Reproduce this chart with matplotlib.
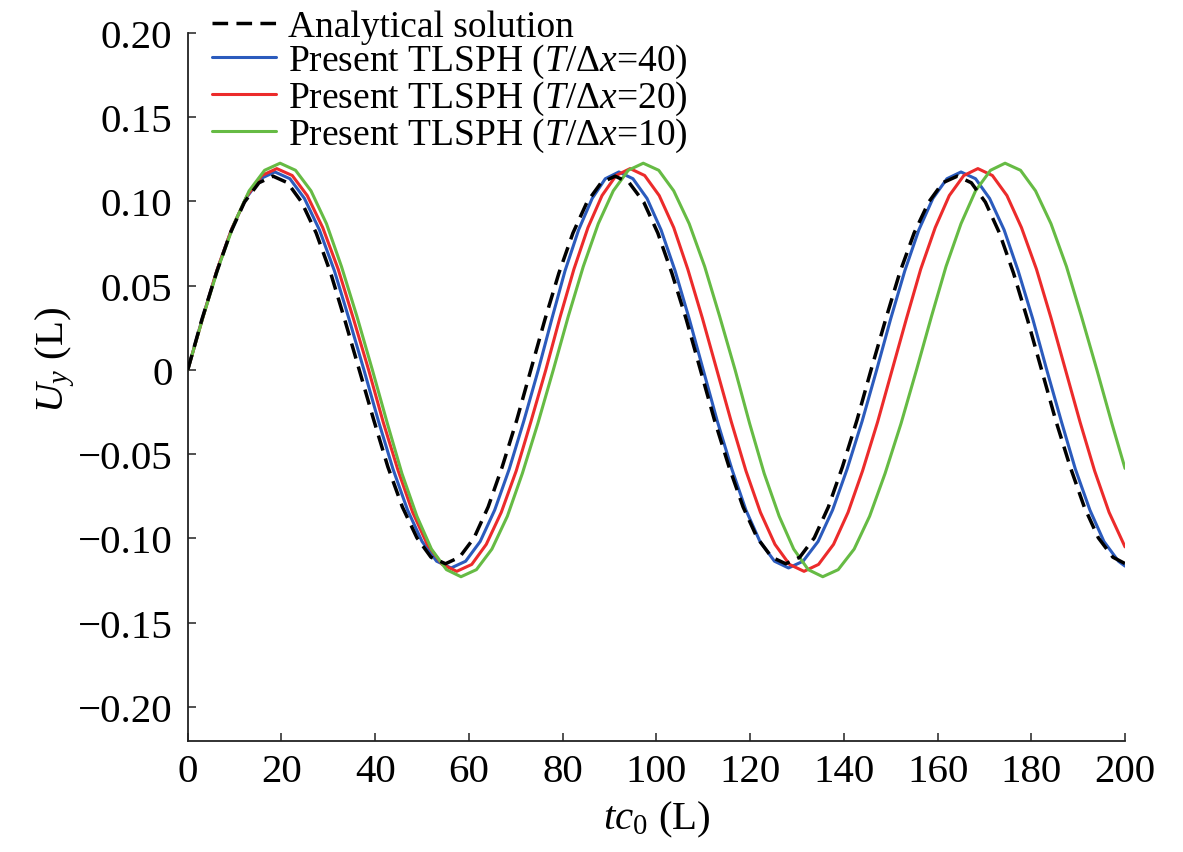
import matplotlib
matplotlib.use('Agg')
import matplotlib.pyplot as plt

# ---- data ----
# analytical solution
x_ana = [0, 3.0, 6.1, 9.1, 12.1, 15.2, 18.2,
         21.3, 24.3, 27.4, 30.5, 33.5, 36.6,
         39.7, 42.7, 45.8, 48.9, 51.9, 55.0,
         58.0, 61.1, 64.1, 67.1, 70.2, 73.2,
         76.2, 79.2, 82.2, 85.2, 88.2, 91.2,
         94.2, 97.3, 100.3, 103.3, 106.4, 109.4,
         112.4, 115.5, 118.5, 121.5, 124.6, 127.6,
         130.6, 133.7, 136.7, 139.7, 142.8, 145.8,
         148.9, 151.9, 155.0, 158.1, 161.1, 164.2,
         167.2, 170.2, 173.2, 176.2, 179.2, 182.2,
         185.2, 188.3, 191.3, 194.3, 197.4, 200.0]
y_ana = [0, 0.0298, 0.0575, 0.0813, 0.0996, 0.1111, 0.115,
         0.1111, 0.0996, 0.0813, 0.0575, 0.0298, 0,
         -0.0298, -0.0575, -0.0813, -0.0996, -0.1111, -0.115,
         -0.1111, -0.0996, -0.0813, -0.0575, -0.0298, 0,
         0.0298, 0.0575, 0.0813, 0.0996, 0.1111, 0.115,
         0.1111, 0.0996, 0.0813, 0.0575, 0.0298, 0,
         -0.0298, -0.0575, -0.0813, -0.0996, -0.1111, -0.115,
         -0.1111, -0.0996, -0.0813, -0.0575, -0.0298, 0,
         0.0298, 0.0575, 0.0813, 0.0996, 0.1111, 0.115,
         0.1111, 0.0996, 0.0813, 0.0575, 0.0298, 0,
         -0.0298, -0.0575, -0.0813, -0.0996, -0.1111, -0.1149]

# TLSPH T/dx = 40
x_40 = [0, 3.1, 6.2, 9.3, 12.4, 15.5, 18.6,
        21.8, 24.9, 28.1, 31.3, 34.4, 37.6,
        40.7, 43.8, 46.9, 50.0, 53.1, 56.2,
        59.3, 62.4, 65.5, 68.6, 71.7, 74.8,
        77.7, 80.5, 83.4, 86.3, 89.1, 92.0,
        95.0, 98.0, 101.0, 104.0, 107.0, 110.0,
        113.0, 116.1, 119.1, 122.1, 125.2, 128.2,
        131.3, 134.5, 137.6, 140.7, 143.9, 147.0,
        150.0, 153.0, 156.0, 159.0, 162.0, 165.0,
        168.1, 171.1, 174.2, 177.2, 180.3, 183.3,
        186.4, 189.4, 192.5, 195.5, 198.6, 200.0]
y_40 = [0, 0.0304, 0.0588, 0.0831, 0.1018, 0.1135, 0.1175,
        0.1135, 0.1018, 0.0831, 0.0588, 0.0304, 0,
        -0.0304, -0.0588, -0.0831, -0.1018, -0.1135, -0.1175,
        -0.1135, -0.1018, -0.0831, -0.0588, -0.0304, 0,
        0.0304, 0.0588, 0.0831, 0.1018, 0.1135, 0.1175,
        0.1135, 0.1018, 0.0831, 0.0588, 0.0304, 0,
        -0.0304, -0.0588, -0.0831, -0.1018, -0.1135, -0.1175,
        -0.1135, -0.1018, -0.0831, -0.0588, -0.0304, 0,
        0.0304, 0.0588, 0.0831, 0.1018, 0.1135, 0.1175,
        0.1135, 0.1018, 0.0831, 0.0588, 0.0304, 0,
        -0.0304, -0.0588, -0.0831, -0.1018, -0.1135, -0.1164]

# TLSPH T/dx = 20
x_20 = [0, 3.2, 6.3, 9.5, 12.7, 15.8, 19.0,
        22.3, 25.5, 28.8, 32.1, 35.3, 38.6,
        41.7, 44.9, 48.0, 51.1, 54.3, 57.4,
        60.6, 63.7, 66.9, 70.1, 73.2, 76.4,
        79.4, 82.4, 85.4, 88.4, 91.4, 94.4,
        97.5, 100.6, 103.7, 106.7, 109.8, 112.9,
        116.0, 119.1, 122.2, 125.3, 128.4, 131.5,
        134.6, 137.8, 140.9, 144.0, 147.2, 150.3,
        153.4, 156.4, 159.5, 162.5, 165.6, 168.6,
        171.7, 174.8, 177.9, 181.1, 184.2, 187.3,
        190.4, 193.5, 196.6, 200.0]
y_20 = [0, 0.0309, 0.0598, 0.0845, 0.1035, 0.1154, 0.1195,
        0.1154, 0.1035, 0.0845, 0.0598, 0.0309, 0,
        -0.0309, -0.0598, -0.0845, -0.1035, -0.1154, -0.1195,
        -0.1154, -0.1035, -0.0845, -0.0598, -0.0309, 0,
        0.0309, 0.0598, 0.0845, 0.1035, 0.1154, 0.1195,
        0.1154, 0.1035, 0.0845, 0.0598, 0.0309, 0,
        -0.0309, -0.0598, -0.0845, -0.1035, -0.1154, -0.1195,
        -0.1154, -0.1035, -0.0845, -0.0598, -0.0309, 0,
        0.0309, 0.0598, 0.0845, 0.1035, 0.1154, 0.1195,
        0.1154, 0.1035, 0.0845, 0.0598, 0.0309, 0,
        -0.0309, -0.0598, -0.0845, -0.1050]

# TLSPH T/dx = 10
x_10 = [0, 3.3, 6.6, 9.9, 13.1, 16.4, 19.7,
        23.0, 26.3, 29.6, 32.8, 36.1, 39.4,
        42.6, 45.7, 48.9, 52.0, 55.2, 58.3,
        61.6, 64.9, 68.2, 71.4, 74.7, 78.0,
        81.2, 84.4, 87.6, 90.8, 94.0, 97.2,
        100.5, 103.7, 107.0, 110.3, 113.5, 116.8,
        119.9, 123.0, 126.2, 129.3, 132.4, 135.5,
        138.8, 142.2, 145.5, 148.8, 152.2, 155.5,
        158.7, 161.8, 165.0, 168.1, 171.3, 174.4,
        177.7, 180.9, 184.2, 187.5, 190.7, 194.0,
        197.2, 200.0]
y_10 = [0, 0.0318, 0.0614, 0.0868, 0.1063, 0.1185, 0.1227,
        0.1185, 0.1063, 0.0868, 0.0614, 0.0318, 0,
        -0.0318, -0.0614, -0.0868, -0.1063, -0.1185, -0.1227,
        -0.1185, -0.1063, -0.0868, -0.0614, -0.0318, 0,
        0.0318, 0.0614, 0.0868, 0.1063, 0.1185, 0.1227,
        0.1185, 0.1063, 0.0868, 0.0614, 0.0318, 0,
        -0.0318, -0.0614, -0.0868, -0.1063, -0.1185, -0.1227,
        -0.1185, -0.1063, -0.0868, -0.0614, -0.0318, 0,
        0.0318, 0.0614, 0.0868, 0.1063, 0.1185, 0.1227,
        0.1185, 0.1063, 0.0868, 0.0614, 0.0318, 0,
        -0.0318, -0.0584]

labels = ['Analytical solution',
          'Present TLSPH ($T$/Δ$x$=40)',
          'Present TLSPH ($T$/Δ$x$=20)',
          'Present TLSPH ($T$/Δ$x$=10)']

xticks = [0, 20, 40, 60, 80, 100, 120, 140, 160, 180, 200]
yticks = [-0.20, -0.15, -0.10, -0.05, 0, 0.05, 0.10, 0.15, 0.20]
ytick_labels = ['\u22120.20', '\u22120.15', '\u22120.10', '\u22120.05', '0',
                '0.05', '0.10', '0.15', '0.20']

# ---- style ----
plt.rcParams['font.family'] = ['Liberation Serif', 'DejaVu Serif']
plt.rcParams['mathtext.fontset'] = 'custom'
plt.rcParams['mathtext.rm'] = 'Liberation Serif'
plt.rcParams['mathtext.it'] = 'Liberation Serif:italic'

fig = plt.figure(figsize=(11.83, 8.53), dpi=100)
ax = fig.add_axes([0.1587, 0.1305, 0.7923, 0.8297])

kw = dict(solid_joinstyle='round', solid_capstyle='round')
ax.plot(x_ana, y_ana, color='black', lw=2.5, dashes=(4.5, 2.4), label=labels[0], zorder=5)
ax.plot(x_40, y_40, color='#2b5bbd', lw=2.2, label=labels[1], **kw)
ax.plot(x_20, y_20, color='#ec2b2b', lw=2.2, label=labels[2], **kw)
ax.plot(x_10, y_10, color='#66bb44', lw=2.2, label=labels[3], **kw)

ax.set_xlim(0, 200)
ax.set_ylim(-0.22, 0.2)
ax.set_xticks(xticks)
ax.set_yticks(yticks, ytick_labels)

for s in ['top', 'right']:
    ax.spines[s].set_visible(False)
for s in ['left', 'bottom']:
    ax.spines[s].set_linewidth(1.3)
    ax.spines[s].set_color('#222222')

ax.tick_params(direction='in', length=6, width=1.1, labelsize=29.5, colors='#222222',
               labelcolor='black')
ax.tick_params(axis='y', pad=11)
ax.tick_params(axis='x', pad=9)

ax.set_xlabel('$tc_0$ (L)', fontsize=29.5)
ax.set_ylabel('$U_y$ (L)', fontsize=29.5)
ax.xaxis.set_label_coords(0.5, -0.082)
ax.yaxis.set_label_coords(-0.118, 0.54)

leg = ax.legend(loc='upper left', bbox_to_anchor=(0.179, 0.988),
                bbox_transform=fig.transFigure, frameon=False, fontsize=27,
                borderpad=0, borderaxespad=0, handlelength=1.7,
                handletextpad=0.32, labelspacing=-0.04)

fig.savefig('out.png', dpi=100)
